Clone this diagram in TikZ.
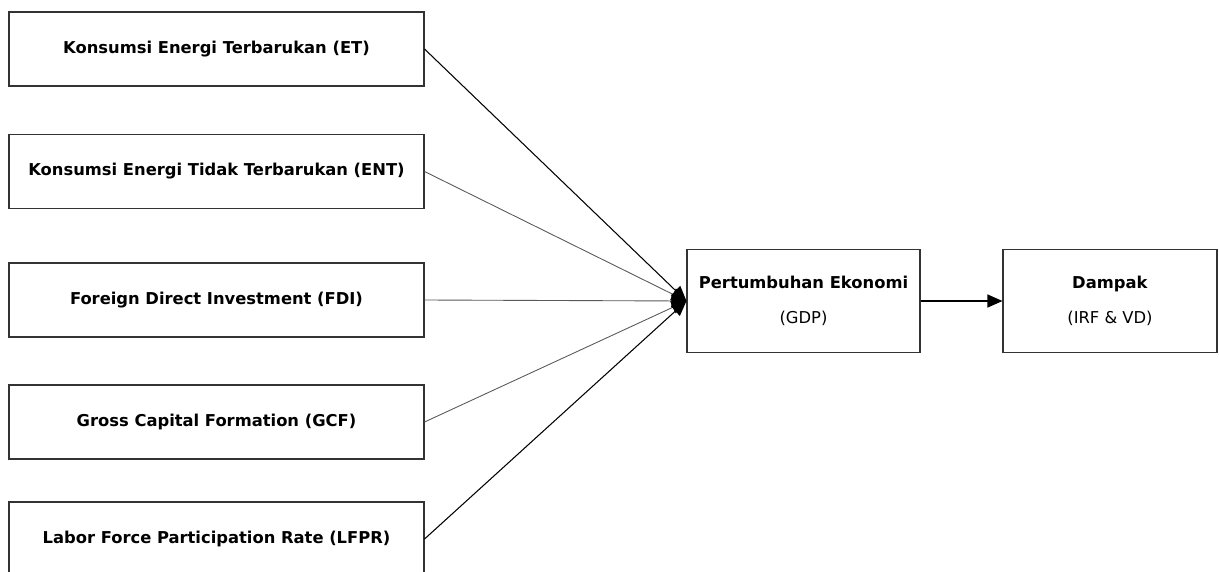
\documentclass[tikz,border=0pt]{standalone}
\usepackage{fontspec}
\setmainfont{DejaVu Sans}
\usetikzlibrary{arrows.meta,positioning}
\begin{document}
\begin{tikzpicture}[
    varbox/.style={draw=black!80, line width=0.6pt, minimum width=8.3cm, minimum height=1.48cm, font=\bfseries\fontsize{9.3}{11}\selectfont},
    resbox/.style={draw=black!80, line width=0.6pt, minimum height=2.06cm, align=center, font=\fontsize{9.3}{11}\selectfont},
    lnk/.style={-{Triangle[length=3mm,width=2.6mm,color=black]}, line width=0.6pt},
    thinlnk/.style={lnk, black!65, line width=0.5pt}
  ]
  \useasboundingbox (0,0) rectangle (24.38,-11.42);
  \node[varbox] (et) at (4.33,-0.98) {Konsumsi Energi Terbarukan (ET)};
  \node[varbox] (ent) at (4.33,-3.43) {Konsumsi Energi Tidak Terbarukan (ENT)};
  \node[varbox] (fdi) at (4.33,-6.0) {Foreign Direct Investment (FDI)};
  \node[varbox] (gcf) at (4.33,-8.44) {Gross Capital Formation (GCF)};
  \node[varbox] (lfpr) at (4.33,-10.78) {Labor Force Participation Rate (LFPR)};
  \node[resbox, minimum width=4.66cm] (gdp) at (16.07,-6.02) {\textbf{Pertumbuhan Ekonomi}\\[9pt](GDP)};
  \node[resbox, minimum width=4.28cm] (dampak) at (22.2,-6.02) {\textbf{Dampak}\\[9pt](IRF \& VD)};
  \draw[thinlnk] (ent.east) -- (gdp.west);
  \draw[thinlnk] (fdi.east) -- (gdp.west);
  \draw[thinlnk] (gcf.east) -- (gdp.west);
  \draw[lnk] (et.east) -- (gdp.west);
  \draw[lnk] (lfpr.east) -- (gdp.west);
  \draw[lnk] (gdp) -- (dampak);
\end{tikzpicture}
\end{document}
